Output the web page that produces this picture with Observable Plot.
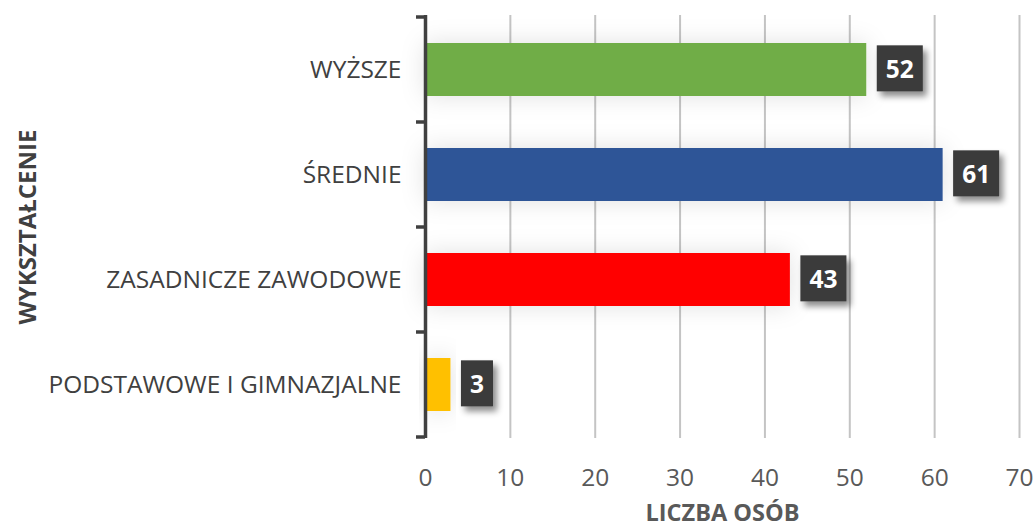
<!DOCTYPE html>
<html>
<head>
<meta charset="utf-8">
<script src="https://cdn.jsdelivr.net/npm/d3@7"></script>
<script src="https://cdn.jsdelivr.net/npm/@observablehq/plot@0.6"></script>
<style>
  html, body { margin: 0; padding: 0; background: #fff; }
  #chart svg { display: block; }
</style>
</head>
<body>
<div id="chart"></div>
<script>
const categories = ["WYŻSZE", "ŚREDNIE", "ZASADNICZE ZAWODOWE", "PODSTAWOWE I GIMNAZJALNE"];
const values = [52, 61, 43, 3];
const barColors = ["#70AD47", "#2F5597", "#FF0000", "#FFC000"];
const xTicks = [0, 10, 20, 30, 40, 50, 60, 70];
const xTitle = "LICZBA OSÓB";
const yTitle = "WYKSZTAŁCENIE";

const data = categories.map((c, i) => ({cat: c, value: values[i]}));
const FONT = "'Open Sans', Calibri, sans-serif";

const fig = Plot.plot({
  width: 1035,
  height: 527,
  marginLeft: 425,
  marginRight: 16,
  marginTop: 15,
  marginBottom: 89,
  style: {fontFamily: FONT, background: "#fff", overflow: "visible"},
  x: {domain: [0, 70], ticks: xTicks, label: null},
  y: {domain: categories, paddingInner: 0.5, paddingOuter: 0.25, label: null},
  color: {domain: categories, range: barColors},
  marks: [
    Plot.gridX(xTicks, {stroke: "#c4c4c4", strokeOpacity: 1, strokeWidth: 2}),
    Plot.axisX({ticks: xTicks, tickSize: 0, tickPadding: 30, fontSize: 24.5, fill: "#595959", label: null}),
    Plot.axisY({tickSize: 0, tickPadding: 24, fontSize: 24.5, fill: "#404040", label: null}),
    Plot.barX(data, {x: "value", y: "cat", fill: "cat", className: "bars"}),
    Plot.ruleX([0], {stroke: "#404040", strokeWidth: 3.5}),
    Plot.text(data, {x: "value", y: "cat", text: d => String(d.value), dx: 19, textAnchor: "start",
      fill: "#ffffff", fontWeight: "bold", fontSize: 24.5, className: "vlabels"}),
    Plot.text([xTitle], {frameAnchor: "bottom", lineAnchor: "middle", textAnchor: "middle", dy: 75, text: d => d, fontWeight: "bold", fontSize: 23.5, fill: "#595959"}),
    Plot.text([yTitle], {frameAnchor: "left", textAnchor: "middle", lineAnchor: "middle", dx: -397, rotate: -90, text: d => d, fontWeight: "bold", fontSize: 24, fill: "#404040"})
  ]
});

document.getElementById("chart").appendChild(fig);

const svg = d3.select(fig);
const defs = svg.insert("defs", ":first-child");
const f = defs.append("filter").attr("id", "shadow").attr("x", "-30%").attr("y", "-30%").attr("width", "170%").attr("height", "170%");
f.append("feDropShadow").attr("dx", 4).attr("dy", 5).attr("stdDeviation", 3).attr("flood-color", "#000").attr("flood-opacity", 0.45);
const fb = defs.append("filter").attr("id", "barshadow").attr("x", "-20%").attr("y", "-60%").attr("width", "140%").attr("height", "220%");
fb.append("feDropShadow").attr("dx", 0).attr("dy", 0).attr("stdDeviation", 12).attr("flood-color", "#000").attr("flood-opacity", 0.12);

svg.selectAll("g.bars rect").attr("filter", "url(#barshadow)");

// label boxes behind value texts
svg.selectAll("g.vlabels text").each(function() {
  const bb = this.getBBox();
  const cy = bb.y + bb.height / 2;
  const r = d3.select(this.parentNode).insert("rect", () => this)
    .attr("x", bb.x - 9)
    .attr("y", cy - 23)
    .attr("width", bb.width + 18)
    .attr("height", 46)
    .attr("fill", "#3a3a3a")
    .attr("filter", "url(#shadow)");
  const t = this.getAttribute("transform");
  if (t) r.attr("transform", t);
});

// category boundary ticks on the y axis
const ys = fig.scale("y");
const xs = fig.scale("x");
const x0 = xs.apply(0);
const bounds = categories.map(c => ys.apply(c) + ys.bandwidth / 2 - ys.step / 2);
bounds.push(ys.apply(categories[categories.length - 1]) + ys.bandwidth / 2 + ys.step / 2);
svg.append("g").selectAll("line").data(bounds).join("line")
  .attr("x1", x0 - 9).attr("x2", x0)
  .attr("y1", d => d).attr("y2", d => d)
  .attr("stroke", "#404040").attr("stroke-width", 3.5);
</script>
</body>
</html>
